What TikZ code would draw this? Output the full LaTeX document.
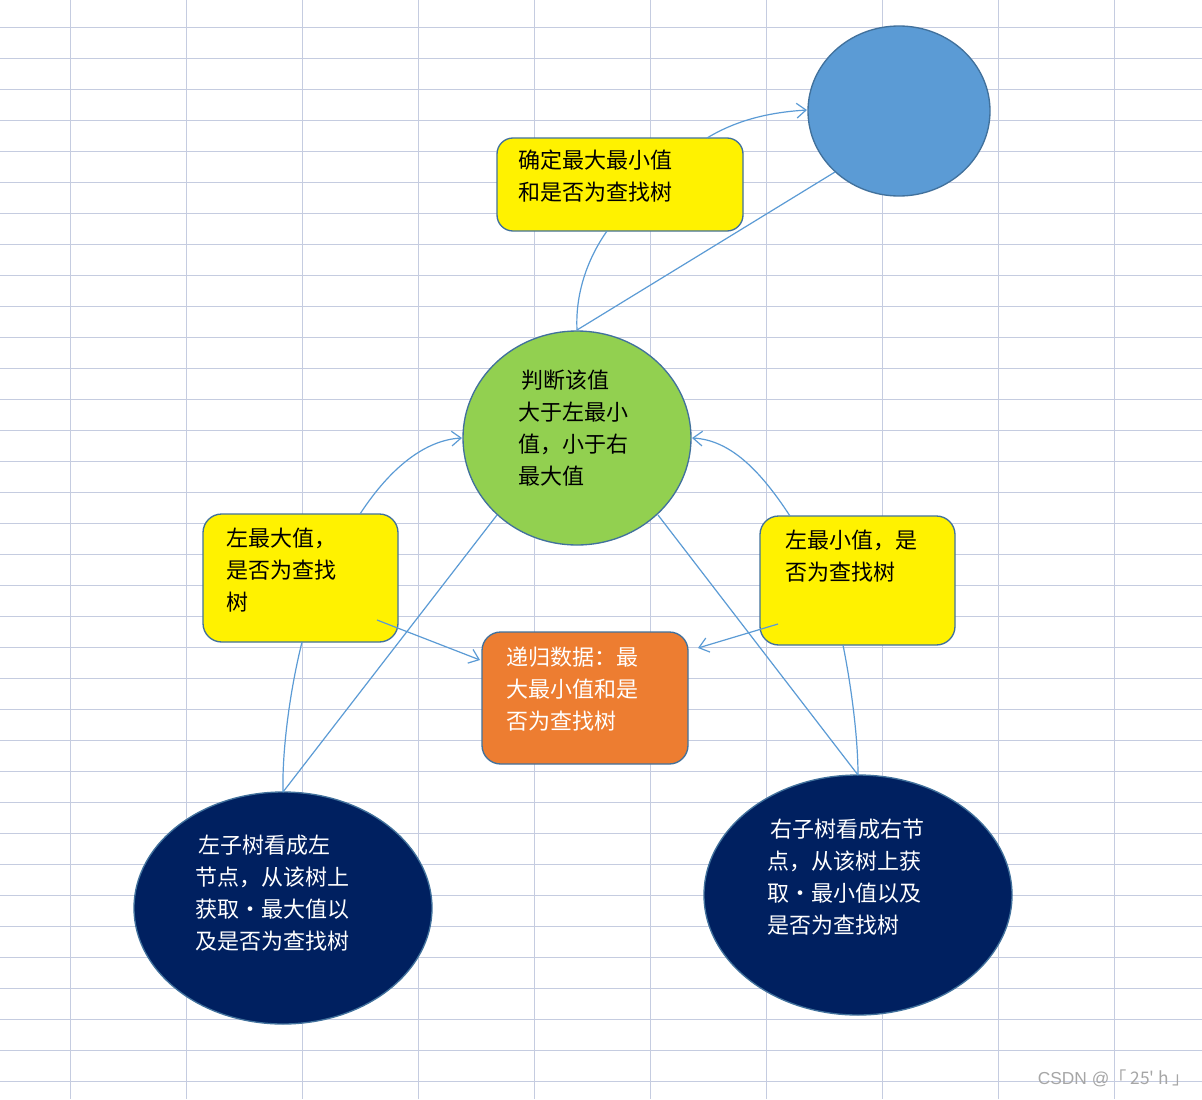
\documentclass[tikz,border=0pt]{standalone}
\usepackage{fontspec}
\newfontfamily\cjk{Noto Sans CJK SC}
\usetikzlibrary{arrows.meta}
\definecolor{grid}{HTML}{C5CCE0}
\definecolor{ln}{HTML}{5B9BD5}
\definecolor{bord}{HTML}{41719C}
\definecolor{navy}{HTML}{002060}
\definecolor{grn}{HTML}{92D050}
\definecolor{org}{HTML}{ED7D31}
\tikzset{
  conn/.style={draw=ln, line width=0.9pt},
  arr/.style={conn, -{Straight Barb[length=7pt,width=11pt]}},
  shp/.style={draw=bord, line width=1pt},
  txt/.style={anchor=north west, align=left, inner sep=0pt, font=\cjk\fontsize{16.5}{24}\selectfont},
}
\begin{document}
\begin{tikzpicture}[x=0.75pt,y=-0.75pt]
\useasboundingbox (0,0) rectangle (1202,1099);
\fill[white] (0,0) rectangle (1202,1099);
\foreach \x in {70,186,...,1114} \draw[grid,line width=0.6pt] (\x,0) -- (\x,1099);
\foreach \y in {27,58,...,1099} \draw[grid,line width=0.6pt] (0,\y) -- (1202,\y);
% shapes
\draw[shp, fill=ln] (899,111) ellipse [x radius=91, y radius=85];
\coordinate (blue) at (899,111);
\draw[shp, fill=yellow, rounded corners=12pt] (497,138) rectangle (743,231);
\draw[shp, fill=grn] (577,438) ellipse [x radius=114, y radius=107];
\draw[shp, fill=yellow, rounded corners=14pt] (203,514) rectangle (398,642);
\draw[shp, fill=yellow, rounded corners=14pt] (760,516) rectangle (955,645);
\draw[shp, fill=org, rounded corners=14pt] (482,632) rectangle (688,764);
\draw[shp, fill=navy] (283,908) ellipse [x radius=149, y radius=116];
\draw[shp, fill=navy] (858,895) ellipse [x radius=154, y radius=120];
% texts
\node[txt] (t1) at (518,150) {确定最大最小值\\和是否为查找树};
\node[txt] (t2) at (518,370) {\,判断该值\\大于左最小\\值，小于右\\最大值};
\node[txt] (t3) at (226,528) {左最大值，\\是否为查找\\树};
\node[txt] (t4) at (785,530) {左最小值，是\\否为查找树};
\node[txt,text=white] (t5) at (506,647) {递归数据：最\\大最小值和是\\否为查找树};
\node[txt,text=white] (t6) at (195,835) {\,左子树看成左\\节点，从该树上\\获取·最大值以\\及是否为查找树};
\node[txt,text=white] (t7) at (767,819) {\,右子树看成右节\\点，从该树上获\\取·最小值以及\\是否为查找树};
\node[anchor=south east, text=gray!70, font=\fontspec{Liberation Sans}\fontsize{13}{15}\selectfont] (wm) at (1195,1092) {CSDN @\cjk「 25' h 」};
% connector points
\coordinate (b1t) at (707,138); \coordinate (bl) at (807,110);
\coordinate (gt) at (577,330); \coordinate (b1b) at (607,231);
\coordinate (blb) at (835,172);
\coordinate (lt) at (360,514); \coordinate (gl) at (462,438);
\coordinate (lr) at (377,620); \coordinate (ol) at (480,660);
\coordinate (lb) at (302,642); \coordinate (let) at (283,792);
\coordinate (gbl) at (497,515);
\coordinate (rt) at (790,516); \coordinate (gr) at (692,438);
\coordinate (rl) at (778,624); \coordinate (or) at (698,648);
\coordinate (rb) at (843,645); \coordinate (ret) at (858,775);
\coordinate (gbr) at (658,515);
\draw[arr] (b1t) .. controls (740,118) and (775,112) .. (bl);
\draw[conn] (gt) .. controls (575,290) and (590,255) .. (b1b);
\draw[conn] (gt) -- (blb);
\draw[arr] (lt) .. controls (390,468) and (425,440) .. (gl);
\draw[arr] (lr) -- (ol);
\draw[conn] (lb) .. controls (290,690) and (282,750) .. (let);
\draw[conn] (let) -- (gbl);
\draw[arr] (rt) .. controls (760,470) and (730,440) .. (gr);
\draw[arr] (rl) -- (or);
\draw[conn] (rb) .. controls (852,690) and (858,740) .. (ret);
\draw[conn] (ret) -- (gbr);
\end{tikzpicture}
\end{document}
